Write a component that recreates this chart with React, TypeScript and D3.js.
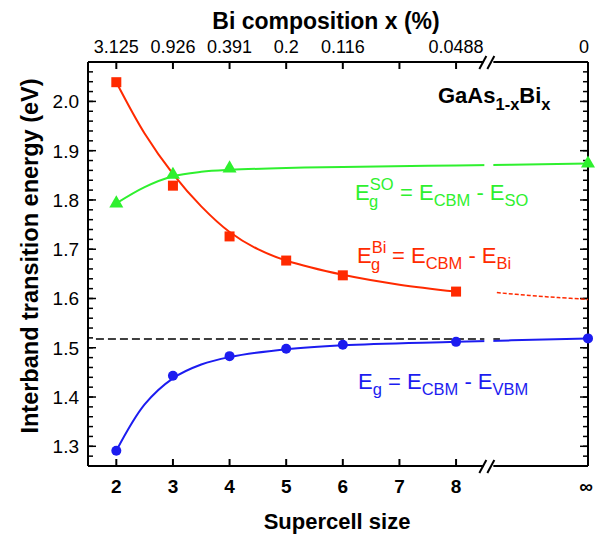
import React from "react";
import * as d3 from "d3";

// ---------- data ----------
const INF_POS = 10.33; // axis position used for the "∞" supercell
const bottomTickValues = [2, 3, 4, 5, 6, 7, 8];
const bottomTickLabels = ["2", "3", "4", "5", "6", "7", "8"];
const topTickValues = [2, 3, 4, 5, 6, 7, 8];
const topLabelPositions = [2, 3, 4, 5, 6, 8, INF_POS];
const topTickLabels = ["3.125", "0.926", "0.391", "0.2", "0.116", "0.0488", "0"];
const yMajorTicks = [1.3, 1.4, 1.5, 1.6, 1.7, 1.8, 1.9, 2.0];
const yMajorLabels = ["1.3", "1.4", "1.5", "1.6", "1.7", "1.8", "1.9", "2.0"];

// Eg^Bi (red squares)
const biX = [2, 3, 4, 5, 6, 8];
const biY = [2.039, 1.829, 1.726, 1.677, 1.647, 1.614];
// Eg^SO (green triangles)
const soX = [2, 3, 4, INF_POS];
const soY = [1.793, 1.851, 1.864, 1.874];
// Eg (blue circles)
const vbmX = [2, 3, 4, 5, 6, 8, INF_POS];
const vbmY = [1.291, 1.443, 1.483, 1.498, 1.506, 1.512, 1.519];

// fitted curves
const biFitX = [2, 2.5, 3, 3.5, 4, 4.5, 5, 6, 7, 8];
const biFitY = [2.039, 1.935, 1.853, 1.787, 1.735, 1.700, 1.677, 1.648, 1.628, 1.614];
const biExtX = [8.72, 9.3, 9.8, INF_POS];
const biExtY = [1.612, 1.606, 1.602, 1.598];
const soFitX = [2, 2.5, 3, 3.5, 4, 5, 6, 8, INF_POS];
const soFitY = [1.793, 1.826, 1.848, 1.857, 1.861, 1.865, 1.867, 1.870, 1.874];
const vbmFitX = [2, 2.5, 3, 3.5, 4, 5, 6, 8, INF_POS];
const vbmFitY = [1.291, 1.385, 1.438, 1.466, 1.481, 1.497, 1.505, 1.512, 1.519];
const gaasGap = 1.518;
const gaasLineX = [1.64, 8.84];

const RED = "#ff2a00";
const GREEN = "#2ef02e";
const BLUE = "#1c1cf0";
const FONT = "'Liberation Sans', Arial, Helvetica, sans-serif";

const W = 602, H = 536;
const L = 88, R = 588, T = 62, B = 466;
const BREAK_X = 8.57;

export default function App() {
  const x = d3.scaleLinear().domain([1.5, INF_POS]).range([L, R]);
  const y = d3.scaleLinear().domain([1.26, 2.08]).range([B, T]);
  const bx = x(BREAK_X);

  const line = d3
    .line<[number, number]>()
    .x((d) => x(d[0]))
    .y((d) => y(d[1]))
    .curve(d3.curveCatmullRom.alpha(0.5));
  const zip = (a: number[], b: number[]) => a.map((v, i) => [v, b[i]] as [number, number]);

  const minor = d3.range(1.26, 2.081, 0.02).map((v) => +v.toFixed(2));
  const tri = d3.symbol().type(d3.symbolTriangle).size(85)();

  const breakMark = (yy: number) => (
    <g>
      <line x1={L} x2={bx - 5} y1={yy} y2={yy} stroke="#000" strokeWidth={2} />
      <line x1={bx + 5} x2={R} y1={yy} y2={yy} stroke="#000" strokeWidth={2} />
      <line x1={bx - 9} y1={yy + 7} x2={bx - 2} y2={yy - 6} stroke="#000" strokeWidth={2} />
      <line x1={bx - 1} y1={yy + 7} x2={bx + 6} y2={yy - 6} stroke="#000" strokeWidth={2} />
    </g>
  );

  const MAIN = 22;
  const SUB = 16.5;

  return (
    <svg width={W} height={H} style={{ position: "absolute", left: 0, top: 0, background: "#fff" }} fontFamily={FONT}>
      <defs>
        <clipPath id="brk">
          <rect x={0} y={0} width={bx - 4} height={H} />
          <rect x={bx + 5} y={0} width={W} height={H} />
        </clipPath>
      </defs>

      {/* frame */}
      <line x1={L} x2={L} y1={T} y2={B} stroke="#000" strokeWidth={2} />
      <line x1={R} x2={R} y1={T} y2={B} stroke="#000" strokeWidth={2} />
      {breakMark(T)}
      {breakMark(B)}

      {/* y ticks */}
      {minor.map((v) => (
        <g key={"m" + v}>
          <line x1={L} x2={L + 5} y1={y(v)} y2={y(v)} stroke="#000" strokeWidth={1.5} />
          <line x1={R} x2={R - 5} y1={y(v)} y2={y(v)} stroke="#000" strokeWidth={1.5} />
        </g>
      ))}
      {yMajorTicks.map((v, i) => (
        <g key={"M" + v}>
          <line x1={L} x2={L + 8} y1={y(v)} y2={y(v)} stroke="#000" strokeWidth={1.5} />
          <line x1={R} x2={R - 8} y1={y(v)} y2={y(v)} stroke="#000" strokeWidth={1.5} />
          <text x={L - 9} y={y(v) + 7} textAnchor="end" fontSize={19}>{yMajorLabels[i]}</text>
        </g>
      ))}

      {/* bottom ticks */}
      {bottomTickValues.map((v, i) => (
        <g key={"b" + v}>
          <line x1={x(v)} x2={x(v)} y1={B} y2={B - 7} stroke="#000" strokeWidth={2} />
          <text x={x(v)} y={B + 27} textAnchor="middle" fontSize={19} fontWeight="bold">{bottomTickLabels[i]}</text>
        </g>
      ))}
      <text x={R - 2} y={B + 27} textAnchor="middle" fontSize={19} fontWeight="bold">∞</text>

      {/* top ticks */}
      {topTickValues.map((v) => (
        <line key={"t" + v} x1={x(v)} x2={x(v)} y1={T} y2={T + 7} stroke="#000" strokeWidth={2} />
      ))}
      {topLabelPositions.map((v, i) => (
        <text key={"tl" + i} x={i === 6 ? R - 4 : x(v)} y={T - 9} textAnchor="middle" fontSize={18}>{topTickLabels[i]}</text>
      ))}

      {/* axis titles */}
      <text x={326} y={29} textAnchor="middle" fontSize={23} fontWeight="bold">Bi composition x (%)</text>
      <text x={337} y={529} textAnchor="middle" fontSize={22} fontWeight="bold">Supercell size</text>
      <text transform={`translate(38, 256) rotate(-90)`} textAnchor="middle" fontSize={23.5} fontWeight="bold">Interband transition energy (eV)</text>

      {/* unstrained GaAs gap */}
      <line x1={x(gaasLineX[0])} x2={x(gaasLineX[1])} y1={y(gaasGap)} y2={y(gaasGap)} stroke="#000" strokeWidth={1.5} strokeDasharray="8,4" clipPath="url(#brk)" />

      {/* fits */}
      <path d={line(zip(biFitX, biFitY)) || ""} fill="none" stroke={RED} strokeWidth={2} />
      <path d={line(zip(biExtX, biExtY)) || ""} fill="none" stroke={RED} strokeWidth={1.5} strokeDasharray="4,2" />
      <path d={line(zip(soFitX, soFitY)) || ""} fill="none" stroke={GREEN} strokeWidth={2} clipPath="url(#brk)" />
      <path d={line(zip(vbmFitX, vbmFitY)) || ""} fill="none" stroke={BLUE} strokeWidth={2} clipPath="url(#brk)" />

      {/* markers */}
      {biX.map((v, i) => (
        <rect key={"bi" + i} x={x(v) - 5} y={y(biY[i]) - 5} width={10} height={10} fill={RED} />
      ))}
      {soX.map((v, i) => (
        <path key={"so" + i} d={tri || ""} transform={`translate(${x(v)},${y(soY[i])})`} fill={GREEN} />
      ))}
      {vbmX.map((v, i) => (
        <circle key={"vb" + i} cx={x(v)} cy={y(vbmY[i])} r={5} fill={BLUE} />
      ))}

      {/* annotations */}
      <text x={438} y={103} fontSize={MAIN} fontWeight="bold">
        GaAs<tspan fontSize={SUB} dy={7}>1-x</tspan><tspan dy={-7}>Bi</tspan><tspan fontSize={SUB} dy={7}>x</tspan>
      </text>

      {/* green: E_g^SO = E_CBM - E_SO */}
      <g fill={GREEN} fontSize={MAIN}>
        <text x={355} y={200}>E<tspan fontSize={SUB} dy={-10}>SO</tspan></text>
        <text x={369} y={207} fontSize={SUB}>g</text>
        <text x={400} y={200}>= E<tspan fontSize={SUB} dy={6}>CBM</tspan><tspan dy={-6}> - E</tspan><tspan fontSize={SUB} dy={6}>SO</tspan></text>
      </g>

      {/* red: E_g^Bi = E_CBM - E_Bi */}
      <g fill={RED} fontSize={MAIN}>
        <text x={357} y={263}>E<tspan fontSize={SUB} dy={-10}>Bi</tspan></text>
        <text x={371} y={270} fontSize={SUB}>g</text>
        <text x={392} y={263}>= E<tspan fontSize={SUB} dy={6}>CBM</tspan><tspan dy={-6}> - E</tspan><tspan fontSize={SUB} dy={6}>Bi</tspan></text>
      </g>

      {/* blue: E_g = E_CBM - E_VBM */}
      <text x={358} y={389} fontSize={MAIN} fill={BLUE}>
        E<tspan fontSize={SUB} dy={6}>g</tspan><tspan dy={-6}> = E</tspan><tspan fontSize={SUB} dy={6}>CBM</tspan><tspan dy={-6}> - E</tspan><tspan fontSize={SUB} dy={6}>VBM</tspan>
      </text>
    </svg>
  );
}
